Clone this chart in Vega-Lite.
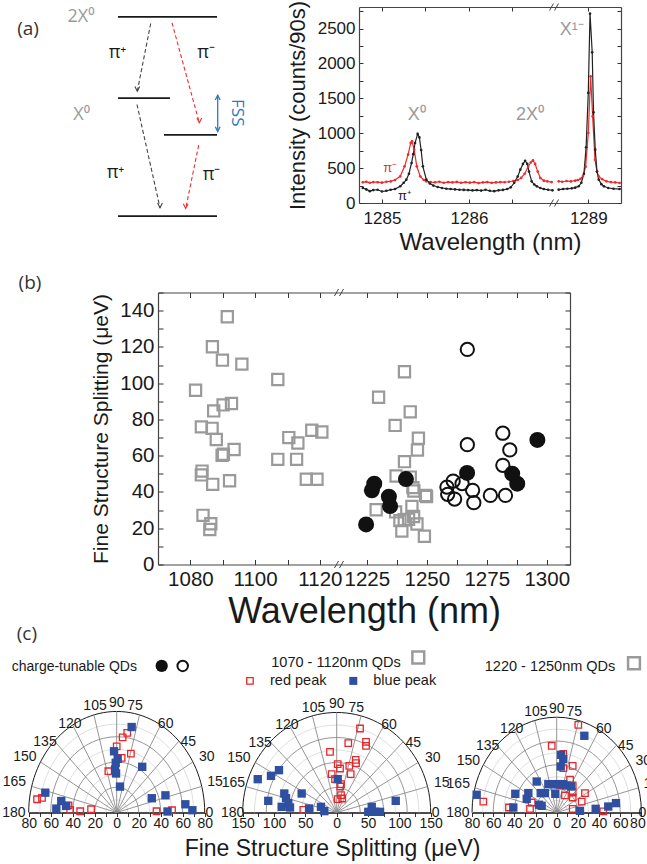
{
"$schema":"https://vega.github.io/schema/vega-lite/v6.json",
"background":"white",
"padding":0,
"bounds":"flush",
"spacing":89.5,
"config":{
 "view":{"stroke":null},
 "font":"Liberation Sans",
 "axis":{"labelFont":"Liberation Sans","titleFont":"Liberation Sans","labelColor":"#1a1a1a","titleColor":"#1a1a1a","titleFontWeight":"normal","tickColor":"#333","domainColor":"#444","grid":false,"labelFlush":false,"labelOverlap":false},
 "text":{"font":"Liberation Sans"}
},
"datasets":{
 "diag":[
  {"k":"lev","x":118,"y":17.3,"x2":217,"y2":17.3},
  {"k":"lev","x":118,"y":98.7,"x2":170,"y2":98.7},
  {"k":"lev","x":164,"y":135.3,"x2":217,"y2":135.3},
  {"k":"lev","x":118,"y":216.7,"x2":217,"y2":216.7},
  {"k":"tr","p":"plus","x":150.7,"y":24,"x2":137.3,"y2":91.7},
  {"k":"tr","p":"minus","x":172,"y":23.3,"x2":199.3,"y2":123.3},
  {"k":"tr","p":"plus","x":137,"y":105,"x2":160,"y2":208.3},
  {"k":"tr","p":"minus","x":198.7,"y":145.7,"x2":185.7,"y2":209},
  {"k":"fss","x":217.7,"y":95.7,"x2":217.7,"y2":132}
 ],
 "dtext":[
  {"g":"grey","t":"2X⁰","x":81,"y":17},
  {"g":"grey","t":"X⁰","x":81.7,"y":115},
  {"g":"pi","t":"π⁺","x":117.5,"y":53},
  {"g":"pi","t":"π⁻","x":206,"y":53},
  {"g":"pi","t":"π⁺","x":115.5,"y":173.5},
  {"g":"pi","t":"π⁻","x":211.5,"y":175},
  {"g":"lab","t":"(a)","x":28,"y":29},
  {"g":"fss","t":"FSS","x":237,"y":113.3}
 ],
 "spec":[
  {"p":"m","s":"L","w":1284.78,"i":296},{"p":"m","s":"L","w":1284.82,"i":305},{"p":"m","s":"L","w":1284.86,"i":290},{"p":"m","s":"L","w":1284.90,"i":300},{"p":"m","s":"L","w":1284.95,"i":298},{"p":"m","s":"L","w":1285.00,"i":292},{"p":"m","s":"L","w":1285.05,"i":305},{"p":"m","s":"L","w":1285.10,"i":310},{"p":"m","s":"L","w":1285.15,"i":330},{"p":"m","s":"L","w":1285.21,"i":382},{"p":"m","s":"L","w":1285.26,"i":526},{"p":"m","s":"L","w":1285.30,"i":693},{"p":"m","s":"L","w":1285.33,"i":860},{"p":"m","s":"L","w":1285.345,"i":884},{"p":"m","s":"L","w":1285.37,"i":765},{"p":"m","s":"L","w":1285.40,"i":526},{"p":"m","s":"L","w":1285.44,"i":382},{"p":"m","s":"L","w":1285.48,"i":330},{"p":"m","s":"L","w":1285.51,"i":311},{"p":"m","s":"L","w":1285.56,"i":300},{"p":"m","s":"L","w":1285.61,"i":296},{"p":"m","s":"L","w":1285.66,"i":305},{"p":"m","s":"L","w":1285.71,"i":290},{"p":"m","s":"L","w":1285.76,"i":300},{"p":"m","s":"L","w":1285.81,"i":295},{"p":"m","s":"L","w":1285.86,"i":302},{"p":"m","s":"L","w":1285.91,"i":290},{"p":"m","s":"L","w":1285.96,"i":298},{"p":"m","s":"L","w":1286.01,"i":292},{"p":"m","s":"L","w":1286.06,"i":300},{"p":"m","s":"L","w":1286.11,"i":285},{"p":"m","s":"L","w":1286.16,"i":295},{"p":"m","s":"L","w":1286.21,"i":300},{"p":"m","s":"L","w":1286.26,"i":290},{"p":"m","s":"L","w":1286.31,"i":295},{"p":"m","s":"L","w":1286.36,"i":300},{"p":"m","s":"L","w":1286.41,"i":298},{"p":"m","s":"L","w":1286.46,"i":305},{"p":"m","s":"L","w":1286.51,"i":315},{"p":"m","s":"L","w":1286.56,"i":330},{"p":"m","s":"L","w":1286.60,"i":360},{"p":"m","s":"L","w":1286.64,"i":420},{"p":"m","s":"L","w":1286.68,"i":520},{"p":"m","s":"L","w":1286.71,"i":580},{"p":"m","s":"L","w":1286.735,"i":612},{"p":"m","s":"L","w":1286.76,"i":560},{"p":"m","s":"L","w":1286.79,"i":450},{"p":"m","s":"L","w":1286.82,"i":358},{"p":"m","s":"L","w":1286.86,"i":320},{"p":"m","s":"L","w":1286.90,"i":311},{"p":"m","s":"L","w":1286.95,"i":300},
  {"p":"m","s":"R","w":1288.66,"i":311},{"p":"m","s":"R","w":1288.70,"i":305},{"p":"m","s":"R","w":1288.75,"i":315},{"p":"m","s":"R","w":1288.80,"i":310},{"p":"m","s":"R","w":1288.85,"i":320},{"p":"m","s":"R","w":1288.88,"i":330},{"p":"m","s":"R","w":1288.91,"i":345},{"p":"m","s":"R","w":1288.94,"i":390},{"p":"m","s":"R","w":1288.97,"i":520},{"p":"m","s":"R","w":1289.00,"i":1004},{"p":"m","s":"R","w":1289.027,"i":1816},{"p":"m","s":"R","w":1289.05,"i":1243},{"p":"m","s":"R","w":1289.077,"i":621},{"p":"m","s":"R","w":1289.10,"i":450},{"p":"m","s":"R","w":1289.12,"i":382},{"p":"m","s":"R","w":1289.16,"i":340},{"p":"m","s":"R","w":1289.21,"i":311},{"p":"m","s":"R","w":1289.26,"i":300},{"p":"m","s":"R","w":1289.31,"i":295},{"p":"m","s":"R","w":1289.36,"i":287},
  {"p":"p","s":"L","w":1284.78,"i":215},{"p":"p","s":"L","w":1284.82,"i":195},{"p":"p","s":"L","w":1284.86,"i":170},{"p":"p","s":"L","w":1284.90,"i":185},{"p":"p","s":"L","w":1284.95,"i":190},{"p":"p","s":"L","w":1285.00,"i":165},{"p":"p","s":"L","w":1285.05,"i":175},{"p":"p","s":"L","w":1285.10,"i":190},{"p":"p","s":"L","w":1285.15,"i":200},{"p":"p","s":"L","w":1285.21,"i":240},{"p":"p","s":"L","w":1285.25,"i":290},{"p":"p","s":"L","w":1285.28,"i":335},{"p":"p","s":"L","w":1285.31,"i":420},{"p":"p","s":"L","w":1285.34,"i":574},{"p":"p","s":"L","w":1285.36,"i":700},{"p":"p","s":"L","w":1285.38,"i":860},{"p":"p","s":"L","w":1285.41,"i":990},{"p":"p","s":"L","w":1285.43,"i":940},{"p":"p","s":"L","w":1285.45,"i":760},{"p":"p","s":"L","w":1285.47,"i":526},{"p":"p","s":"L","w":1285.51,"i":335},{"p":"p","s":"L","w":1285.55,"i":280},{"p":"p","s":"L","w":1285.59,"i":250},{"p":"p","s":"L","w":1285.64,"i":230},{"p":"p","s":"L","w":1285.69,"i":215},{"p":"p","s":"L","w":1285.74,"i":205},{"p":"p","s":"L","w":1285.79,"i":200},{"p":"p","s":"L","w":1285.84,"i":195},{"p":"p","s":"L","w":1285.89,"i":190},{"p":"p","s":"L","w":1285.94,"i":188},{"p":"p","s":"L","w":1285.99,"i":185},{"p":"p","s":"L","w":1286.04,"i":180},{"p":"p","s":"L","w":1286.09,"i":185},{"p":"p","s":"L","w":1286.14,"i":178},{"p":"p","s":"L","w":1286.19,"i":190},{"p":"p","s":"L","w":1286.24,"i":175},{"p":"p","s":"L","w":1286.29,"i":170},{"p":"p","s":"L","w":1286.34,"i":182},{"p":"p","s":"L","w":1286.39,"i":188},{"p":"p","s":"L","w":1286.44,"i":200},{"p":"p","s":"L","w":1286.48,"i":225},{"p":"p","s":"L","w":1286.52,"i":290},{"p":"p","s":"L","w":1286.56,"i":380},{"p":"p","s":"L","w":1286.59,"i":478},{"p":"p","s":"L","w":1286.62,"i":560},{"p":"p","s":"L","w":1286.645,"i":605},{"p":"p","s":"L","w":1286.67,"i":560},{"p":"p","s":"L","w":1286.69,"i":450},{"p":"p","s":"L","w":1286.72,"i":311},{"p":"p","s":"L","w":1286.75,"i":265},{"p":"p","s":"L","w":1286.78,"i":239},{"p":"p","s":"L","w":1286.82,"i":215},{"p":"p","s":"L","w":1286.86,"i":200},{"p":"p","s":"L","w":1286.91,"i":190},{"p":"p","s":"L","w":1286.96,"i":182},
  {"p":"p","s":"R","w":1288.66,"i":191},{"p":"p","s":"R","w":1288.71,"i":200},{"p":"p","s":"R","w":1288.76,"i":205},{"p":"p","s":"R","w":1288.81,"i":210},{"p":"p","s":"R","w":1288.85,"i":220},{"p":"p","s":"R","w":1288.89,"i":240},{"p":"p","s":"R","w":1288.92,"i":290},{"p":"p","s":"R","w":1288.95,"i":420},{"p":"p","s":"R","w":1288.975,"i":800},{"p":"p","s":"R","w":1289.00,"i":1578},{"p":"p","s":"R","w":1289.02,"i":2715},{"p":"p","s":"R","w":1289.045,"i":2160},{"p":"p","s":"R","w":1289.06,"i":1300},{"p":"p","s":"R","w":1289.08,"i":765},{"p":"p","s":"R","w":1289.10,"i":450},{"p":"p","s":"R","w":1289.12,"i":335},{"p":"p","s":"R","w":1289.15,"i":270},{"p":"p","s":"R","w":1289.18,"i":239},{"p":"p","s":"R","w":1289.23,"i":215},{"p":"p","s":"R","w":1289.29,"i":205},{"p":"p","s":"R","w":1289.36,"i":200}
 ],
 "fss":[
  {"t":"sq","w":1091.4,"f":136.6},{"t":"sq","w":1086.8,"f":120.1},{"t":"sq","w":1089.9,"f":112.7},{"t":"sq","w":1095.9,"f":110.5},{"t":"sq","w":1107.0,"f":102.0},{"t":"sq","w":1081.6,"f":96.1},{"t":"sq","w":1090.1,"f":88.0},{"t":"sq","w":1092.7,"f":88.8},{"t":"sq","w":1087.2,"f":84.7},{"t":"sq","w":1083.4,"f":75.9},{"t":"sq","w":1086.7,"f":75.1},{"t":"sq","w":1088.0,"f":68.9},{"t":"sq","w":1110.4,"f":70.0},{"t":"sq","w":1113.2,"f":67.0},{"t":"sq","w":1117.5,"f":74.0},{"t":"sq","w":1120.6,"f":73.1},{"t":"sq","w":1090.2,"f":60.8},{"t":"sq","w":1089.8,"f":60.2},{"t":"sq","w":1093.5,"f":63.4},{"t":"sq","w":1107.0,"f":58.0},{"t":"sq","w":1112.8,"f":58.0},{"t":"sq","w":1083.6,"f":51.5},{"t":"sq","w":1083.4,"f":49.4},{"t":"sq","w":1086.9,"f":44.2},{"t":"sq","w":1092.1,"f":46.2},{"t":"sq","w":1115.8,"f":47.0},{"t":"sq","w":1119.1,"f":47.0},{"t":"sq","w":1083.9,"f":27.1},{"t":"sq","w":1086.3,"f":22.5},{"t":"sq","w":1086.0,"f":19.3},
  {"t":"sq","w":1240.7,"f":106.3},{"t":"sq","w":1229.9,"f":92.2},{"t":"sq","w":1243.1,"f":84.2},{"t":"sq","w":1236.8,"f":76.7},{"t":"sq","w":1246.5,"f":69.6},{"t":"sq","w":1246.1,"f":63.1},{"t":"sq","w":1240.7,"f":56.7},{"t":"sq","w":1237.2,"f":48.8},{"t":"sq","w":1243.1,"f":48.2},{"t":"sq","w":1244.2,"f":42.4},{"t":"sq","w":1244.6,"f":40.5},{"t":"sq","w":1249.5,"f":38.1},{"t":"sq","w":1249.9,"f":37.5},{"t":"sq","w":1228.9,"f":30.2},{"t":"sq","w":1243.8,"f":32.0},{"t":"sq","w":1237.0,"f":29.0},{"t":"sq","w":1244.5,"f":26.5},{"t":"sq","w":1238.8,"f":24.2},{"t":"sq","w":1240.6,"f":24.7},{"t":"sq","w":1242.4,"f":24.9},{"t":"sq","w":1245.9,"f":22.3},{"t":"sq","w":1239.6,"f":18.4},{"t":"sq","w":1249.0,"f":15.6},
  {"t":"oc","w":1266.9,"f":118.6},{"t":"oc","w":1266.9,"f":66.1},{"t":"oc","w":1281.7,"f":72.4},{"t":"oc","w":1284.6,"f":63.2},{"t":"oc","w":1281.7,"f":54.7},{"t":"oc","w":1261.0,"f":46.0},{"t":"oc","w":1258.4,"f":42.7},{"t":"oc","w":1264.7,"f":44.6},{"t":"oc","w":1269.1,"f":40.9},{"t":"oc","w":1258.7,"f":38.7},{"t":"oc","w":1261.6,"f":36.1},{"t":"oc","w":1269.6,"f":34.1},{"t":"oc","w":1276.5,"f":38.1},{"t":"oc","w":1282.8,"f":38.1},
  {"t":"fc","w":1296.1,"f":68.7},{"t":"fc","w":1266.8,"f":50.5},{"t":"fc","w":1285.6,"f":50.1},{"t":"fc","w":1287.7,"f":44.6},{"t":"fc","w":1241.3,"f":47.1},{"t":"fc","w":1228.1,"f":44.6},{"t":"fc","w":1227.1,"f":40.9},{"t":"fc","w":1234.2,"f":37.4},{"t":"fc","w":1234.7,"f":32.2},{"t":"fc","w":1224.7,"f":22.1}
 ],
 "p1":[
  {"c":"b","x":13.6,"y":67.7},{"c":"b","x":-2.4,"y":48.5},{"c":"b","x":0.9,"y":42.5},{"c":"b","x":-0.9,"y":39.4},{"c":"b","x":-1.5,"y":34.1},{"c":"b","x":-0.6,"y":30.9},{"c":"b","x":3.0,"y":20.5},{"c":"b","x":23.2,"y":36.2},{"c":"b","x":-64.9,"y":15.7},{"c":"b","x":-50.4,"y":9.1},{"c":"b","x":-54.9,"y":3.1},{"c":"b","x":-45.9,"y":5.2},{"c":"b","x":31.9,"y":11.3},{"c":"b","x":44.3,"y":13.6},{"c":"b","x":46.2,"y":0.8},{"c":"b","x":62.4,"y":6.5},{"c":"b","x":68.8,"y":1.8},
  {"c":"r","x":9.6,"y":63},{"c":"r","x":5.4,"y":59.5},{"c":"r","x":0,"y":52.4},{"c":"r","x":12.9,"y":46.7},{"c":"r","x":4.5,"y":43.3},{"c":"r","x":-7.6,"y":32.7},{"c":"r","x":-72.4,"y":10.5},{"c":"r","x":-67.9,"y":11.5},{"c":"r","x":-43.8,"y":5.7},{"c":"r","x":-42.3,"y":2.0},{"c":"r","x":-33.2,"y":1.0},{"c":"r","x":-23.3,"y":2.6},{"c":"r","x":36.2,"y":1.0},{"c":"r","x":50.3,"y":1.8}
 ],
 "p2":[
  {"c":"r","x":37.2,"y":126},{"c":"r","x":18.5,"y":104},{"c":"r","x":46.8,"y":106},{"c":"r","x":46.8,"y":100},{"c":"r","x":-10.7,"y":91},{"c":"r","x":30.3,"y":79},{"c":"r","x":30.8,"y":74},{"c":"r","x":1.6,"y":72.5},{"c":"r","x":5.3,"y":66},{"c":"r","x":20.1,"y":70},{"c":"r","x":-8.0,"y":57.5},{"c":"r","x":22.3,"y":57.5},{"c":"r","x":-2.7,"y":50},{"c":"r","x":6.9,"y":42.5},{"c":"r","x":5.7,"y":39},{"c":"r","x":6.9,"y":26},{"c":"r","x":1.6,"y":20},{"c":"r","x":8.9,"y":21},{"c":"r","x":-53.3,"y":4},
  {"c":"b","x":1.6,"y":50},{"c":"b","x":-126,"y":50},{"c":"b","x":-104.9,"y":55},{"c":"b","x":-92.1,"y":63.5},{"c":"b","x":-83.6,"y":28.5},{"c":"b","x":-80.9,"y":21.5},{"c":"b","x":-109.2,"y":17.5},{"c":"b","x":-55.9,"y":28.5},{"c":"b","x":-87.8,"y":8.5},{"c":"b","x":-74.5,"y":7.5},{"c":"b","x":-77.2,"y":14},{"c":"b","x":-44.2,"y":6},{"c":"b","x":-25.1,"y":8.5},{"c":"b","x":-19.8,"y":2},{"c":"b","x":55.9,"y":8.5},{"c":"b","x":61.1,"y":1},{"c":"b","x":50.4,"y":1},{"c":"b","x":69.1,"y":1},{"c":"b","x":94.2,"y":17.5}
 ],
 "p3":[
  {"c":"r","x":20.4,"y":73.6},{"c":"r","x":-4.7,"y":56},{"c":"r","x":6.2,"y":49.3},{"c":"r","x":15.1,"y":39.2},{"c":"r","x":6.2,"y":37.3},{"c":"r","x":12.6,"y":27.5},{"c":"r","x":15.1,"y":22.7},{"c":"r","x":3.8,"y":22.7},{"c":"r","x":7.8,"y":14.3},{"c":"r","x":15.1,"y":16.8},{"c":"r","x":26.7,"y":16.3},{"c":"r","x":15.1,"y":12.6},{"c":"r","x":23.6,"y":9.2},{"c":"r","x":15.1,"y":3.1},{"c":"r","x":-69.3,"y":9.2},{"c":"r","x":-45.1,"y":4.2},{"c":"r","x":-25.2,"y":3.1},{"c":"r","x":-23.6,"y":8.4},{"c":"r","x":44,"y":1.0},
  {"c":"b","x":26.1,"y":64.4},{"c":"b","x":4.1,"y":48.4},{"c":"b","x":6.2,"y":44.8},{"c":"b","x":3.8,"y":38.6},{"c":"b","x":-7.9,"y":23.8},{"c":"b","x":-3.2,"y":23.8},{"c":"b","x":1.5,"y":23.8},{"c":"b","x":6.2,"y":23.8},{"c":"b","x":9.4,"y":22.7},{"c":"b","x":13.5,"y":21.8},{"c":"b","x":-18.9,"y":26},{"c":"b","x":-15.1,"y":16.3},{"c":"b","x":-11.1,"y":16.3},{"c":"b","x":-1.3,"y":15.7},{"c":"b","x":-26.8,"y":16.3},{"c":"b","x":-28.3,"y":11.5},{"c":"b","x":-16.7,"y":6.5},{"c":"b","x":-14.2,"y":5.6},{"c":"b","x":-39.1,"y":15.7},{"c":"b","x":-41,"y":4.2},{"c":"b","x":-75.6,"y":14.9},{"c":"b","x":36.8,"y":3.1},{"c":"b","x":48.7,"y":5.0},{"c":"b","x":56,"y":7.9},{"c":"b","x":22,"y":1.4}
 ],
 "ring80":[{"o":0,"r":10,"k":"l"},{"o":0,"r":20,"k":"d"},{"o":0,"r":30,"k":"l"},{"o":0,"r":40,"k":"d"},{"o":0,"r":50,"k":"l"},{"o":0,"r":60,"k":"d"},{"o":0,"r":70,"k":"l"},{"o":0,"r":80,"k":"o"}],
 "ring150":[{"o":0,"r":18.75,"k":"l"},{"o":0,"r":37.5,"k":"d"},{"o":0,"r":56.25,"k":"l"},{"o":0,"r":75,"k":"d"},{"o":0,"r":93.75,"k":"l"},{"o":0,"r":112.5,"k":"d"},{"o":0,"r":131.25,"k":"l"},{"o":0,"r":150,"k":"o"}],
 "rad80":[{"o":0,"ex":77.27,"ey":20.71},{"o":0,"ex":69.28,"ey":40},{"o":0,"ex":56.57,"ey":56.57},{"o":0,"ex":40,"ey":69.28},{"o":0,"ex":20.71,"ey":77.27},{"o":0,"ex":0,"ey":80},{"o":0,"ex":-20.71,"ey":77.27},{"o":0,"ex":-40,"ey":69.28},{"o":0,"ex":-56.57,"ey":56.57},{"o":0,"ex":-69.28,"ey":40},{"o":0,"ex":-77.27,"ey":20.71}],
 "rad150":[{"o":0,"ex":144.89,"ey":38.82},{"o":0,"ex":129.9,"ey":75},{"o":0,"ex":106.07,"ey":106.07},{"o":0,"ex":75,"ey":129.9},{"o":0,"ex":38.82,"ey":144.89},{"o":0,"ex":0,"ey":150},{"o":0,"ex":-38.82,"ey":144.89},{"o":0,"ex":-75,"ey":129.9},{"o":0,"ex":-106.07,"ey":106.07},{"o":0,"ex":-129.9,"ey":75},{"o":0,"ex":-144.89,"ey":38.82}],
 "lab80":[{"t":"0","x":84.2,"y":0},{"t":"15","x":89.4,"y":23.8},{"t":"30","x":81.8,"y":43.6},{"t":"45","x":65.1,"y":55.9},{"t":"60","x":44.5,"y":70},{"t":"75","x":16.6,"y":84},{"t":"90","x":0,"y":86.6},{"t":"105","x":-19.7,"y":84},{"t":"120","x":-42.5,"y":70},{"t":"135","x":-65.2,"y":55.9},{"t":"150","x":-83.4,"y":43.6},{"t":"165","x":-93,"y":23.8},{"t":"180","x":-93.4,"y":0}],
 "lab80b":[{"t":"0","x":81,"y":0},{"t":"15","x":89.4,"y":23.8},{"t":"30","x":81.8,"y":43.6},{"t":"45","x":65.1,"y":55.9},{"t":"60","x":44.5,"y":70},{"t":"75","x":16.6,"y":84},{"t":"90","x":0,"y":86.6},{"t":"105","x":-19.7,"y":84},{"t":"120","x":-42.5,"y":70},{"t":"135","x":-65.2,"y":55.9},{"t":"150","x":-83.4,"y":43.6},{"t":"165","x":-93,"y":23.8},{"t":"180","x":-93.4,"y":0}],
 "lab150":[{"t":"0","x":157.8,"y":0},{"t":"15","x":167.6,"y":44.6},{"t":"30","x":153.4,"y":81.8},{"t":"45","x":122.1,"y":104.9},{"t":"60","x":83.5,"y":131.1},{"t":"75","x":31.1,"y":157.4},{"t":"90","x":0,"y":162.3},{"t":"105","x":-37,"y":157.4},{"t":"120","x":-79.6,"y":131.1},{"t":"135","x":-122.3,"y":104.9},{"t":"150","x":-156.2,"y":81.8},{"t":"165","x":-165,"y":44.6},{"t":"180","x":-166,"y":0}]
},
"vconcat":[
 {"width":621,"height":196,
  "resolve":{"scale":{"x":"independent","y":"independent","color":"independent"},"axis":{"x":"independent","y":"independent"}},
  "layer":[
   {"data":{"name":"diag"},"transform":[{"filter":"datum.k == 'lev'"}],"mark":{"type":"rule","color":"#1a1a1a","strokeWidth":1.8},
    "encoding":{"x":{"field":"x","type":"quantitative","scale":{"domain":[0,621],"range":[0,621],"nice":false,"zero":false},"axis":null},"y":{"field":"y","type":"quantitative","scale":{"domain":[7.5,203.5],"range":[0,196],"nice":false,"zero":false},"axis":null},"x2":{"field":"x2"},"y2":{"field":"y2"}}},
   {"data":{"name":"diag"},"transform":[{"filter":"datum.k == 'tr'"}],"mark":{"type":"rule","strokeDash":[4,2.5],"strokeWidth":1.1},
    "encoding":{"x":{"field":"x","type":"quantitative","scale":{"domain":[0,621],"range":[0,621],"nice":false,"zero":false},"axis":null},"y":{"field":"y","type":"quantitative","scale":{"domain":[7.5,203.5],"range":[0,196],"nice":false,"zero":false},"axis":null},"x2":{"field":"x2"},"y2":{"field":"y2"},
     "color":{"field":"p","type":"nominal","scale":{"domain":["plus","minus"],"range":["#444444","#ee3030"]},"legend":null}}},
   {"data":{"name":"diag"},"transform":[{"filter":"datum.k == 'tr'"}],"mark":{"type":"point","shape":"M -0.8 -1.6 L 0 0 L 0.8 -1.6","filled":false,"size":36,"strokeWidth":1.1,"opacity":1},
    "encoding":{"x":{"field":"x2","type":"quantitative","scale":{"domain":[0,621],"range":[0,621],"nice":false,"zero":false},"axis":null},"y":{"field":"y2","type":"quantitative","scale":{"domain":[7.5,203.5],"range":[0,196],"nice":false,"zero":false},"axis":null},
     "color":{"field":"p","type":"nominal","scale":{"domain":["plus","minus"],"range":["#444444","#ee3030"]},"legend":null}}},
   {"data":{"name":"diag"},"transform":[{"filter":"datum.k == 'fss'"}],"mark":{"type":"rule","color":"#2b7bbf","strokeWidth":1.3},
    "encoding":{"x":{"field":"x","type":"quantitative","scale":{"domain":[0,621],"range":[0,621],"nice":false,"zero":false},"axis":null},"y":{"field":"y","type":"quantitative","scale":{"domain":[7.5,203.5],"range":[0,196],"nice":false,"zero":false},"axis":null},"x2":{"field":"x2"},"y2":{"field":"y2"}}},
   {"data":{"name":"diag"},"transform":[{"filter":"datum.k == 'fss'"}],"mark":{"type":"point","shape":"M -0.8 1.6 L 0 0 L 0.8 1.6","filled":false,"size":36,"strokeWidth":1.3,"color":"#2b7bbf","opacity":1},
    "encoding":{"x":{"field":"x","type":"quantitative","scale":{"domain":[0,621],"range":[0,621],"nice":false,"zero":false},"axis":null},"y":{"field":"y","type":"quantitative","scale":{"domain":[7.5,203.5],"range":[0,196],"nice":false,"zero":false},"axis":null}}},
   {"data":{"name":"diag"},"transform":[{"filter":"datum.k == 'fss'"}],"mark":{"type":"point","shape":"M -0.8 -1.6 L 0 0 L 0.8 -1.6","filled":false,"size":36,"strokeWidth":1.3,"color":"#2b7bbf","opacity":1},
    "encoding":{"x":{"field":"x2","type":"quantitative","scale":{"domain":[0,621],"range":[0,621],"nice":false,"zero":false},"axis":null},"y":{"field":"y2","type":"quantitative","scale":{"domain":[7.5,203.5],"range":[0,196],"nice":false,"zero":false},"axis":null}}},
   {"data":{"name":"dtext"},"transform":[{"filter":"datum.g == 'grey'"}],"mark":{"type":"text","font":"Open Sans","fontSize":18,"color":"#9a9a9a"},
    "encoding":{"x":{"field":"x","type":"quantitative","scale":{"domain":[0,621],"range":[0,621],"nice":false,"zero":false},"axis":null},"y":{"field":"y","type":"quantitative","scale":{"domain":[7.5,203.5],"range":[0,196],"nice":false,"zero":false},"axis":null},"text":{"field":"t"}}},
   {"data":{"name":"dtext"},"transform":[{"filter":"datum.g == 'pi'"}],"mark":{"type":"text","font":"Open Sans","fontSize":18,"color":"#1a1a1a"},
    "encoding":{"x":{"field":"x","type":"quantitative","scale":{"domain":[0,621],"range":[0,621],"nice":false,"zero":false},"axis":null},"y":{"field":"y","type":"quantitative","scale":{"domain":[7.5,203.5],"range":[0,196],"nice":false,"zero":false},"axis":null},"text":{"field":"t"}}},
   {"data":{"name":"dtext"},"transform":[{"filter":"datum.g == 'lab'"}],"mark":{"type":"text","font":"Open Sans","fontSize":19,"color":"#333333"},
    "encoding":{"x":{"field":"x","type":"quantitative","scale":{"domain":[0,621],"range":[0,621],"nice":false,"zero":false},"axis":null},"y":{"field":"y","type":"quantitative","scale":{"domain":[7.5,203.5],"range":[0,196],"nice":false,"zero":false},"axis":null},"text":{"field":"t"}}},
   {"data":{"name":"dtext"},"transform":[{"filter":"datum.g == 'fss'"}],"mark":{"type":"text","font":"Open Sans","fontSize":17,"angle":90,"color":"#2b7bbf"},
    "encoding":{"x":{"field":"x","type":"quantitative","scale":{"domain":[0,621],"range":[0,621],"nice":false,"zero":false},"axis":null},"y":{"field":"y","type":"quantitative","scale":{"domain":[7.5,203.5],"range":[0,196],"nice":false,"zero":false},"axis":null},"text":{"field":"t"}}},
   {"data":{"name":"spec"},"mark":{"type":"line","strokeWidth":1.2,"point":{"size":7,"filled":true,"opacity":1}},
    "encoding":{
     "x":{"field":"w","type":"quantitative","scale":{"type":"linear","domain":[1284.736,1286.977,1288.606,1289.376],"range":[359,554,554,621],"nice":false,"zero":false},
          "axis":{"orient":"bottom","values":[1285,1285.5,1286,1286.5,1289],"labelExpr":"datum.value % 1 == 0 ? '' + datum.value : ''","tickSize":-4,"labelPadding":11,"labelFontSize":17,"domain":true,"domainWidth":1.2,"title":"Wavelength (nm)","titleFontSize":24,"titlePadding":4}},
     "y":{"field":"i","type":"quantitative","scale":{"domain":[0,2810],"range":[196,0],"nice":false,"zero":false},
          "axis":{"orient":"left","offset":-359,"values":[0,250,500,750,1000,1250,1500,1750,2000,2250,2500,2750],"labelExpr":"datum.value % 500 == 0 ? '' + datum.value : ''","tickSize":-4,"labelPadding":8,"labelFontSize":17,"domain":true,"domainWidth":1.2,"title":"Intensity (counts/90s)","titleFontSize":22,"titlePadding":8}},
     "color":{"field":"p","type":"nominal","scale":{"domain":["m","p"],"range":["#ee2a2a","#222222"]},"legend":null},
     "detail":{"field":"s"}}},
   {"data":{"values":[{"t":"X⁰","w":1285.40,"i":1266},{"t":"2X⁰","w":1286.70,"i":1266},{"t":"X¹⁻","w":1288.81,"i":2486}]},
    "mark":{"type":"text","fontSize":18,"color":"#9a9a9a"},
    "encoding":{
     "x":{"field":"w","type":"quantitative","scale":{"type":"linear","domain":[1284.736,1286.977,1288.606,1289.376],"range":[359,554,554,621],"nice":false,"zero":false},
          "axis":{"orient":"top","values":[1285,1285.5,1286,1286.5,1289],"labels":false,"tickSize":-4,"domain":true,"domainWidth":1.2,"title":null}},
     "y":{"field":"i","type":"quantitative","scale":{"domain":[0,2810],"range":[196,0],"nice":false,"zero":false},
          "axis":{"orient":"right","values":[0,250,500,750,1000,1250,1500,1750,2000,2250,2500,2750],"labels":false,"tickSize":-4,"domain":true,"domainWidth":1.2,"title":null}},
     "text":{"field":"t"}}},
   {"data":{"values":[{"t":"π⁻","w":1285.09,"i":502,"p":"m"},{"t":"π⁺","w":1285.26,"i":96,"p":"p"}]},
    "mark":{"type":"text","fontSize":13},
    "encoding":{
     "x":{"field":"w","type":"quantitative","scale":{"type":"linear","domain":[1284.736,1286.977,1288.606,1289.376],"range":[359,554,554,621],"nice":false,"zero":false},"axis":null},
     "y":{"field":"i","type":"quantitative","scale":{"domain":[0,2810],"range":[196,0],"nice":false,"zero":false},"axis":null},
     "color":{"field":"p","type":"nominal","scale":{"domain":["m","p"],"range":["#ee2a2a","#222222"]},"legend":null},
     "text":{"field":"t"}}},
   {"data":{"values":[{"a":1286.925,"b":1286.971,"u":-50,"v":50},{"a":1288.612,"b":1288.658,"u":-50,"v":50},{"a":1286.925,"b":1286.971,"u":2760,"v":2860},{"a":1288.612,"b":1288.658,"u":2760,"v":2860}]},
    "mark":{"type":"rule","color":"#444444","strokeWidth":1},
    "encoding":{
     "x":{"field":"a","type":"quantitative","scale":{"type":"linear","domain":[1284.736,1286.977,1288.606,1289.376],"range":[359,554,554,621],"nice":false,"zero":false},"axis":null},
     "x2":{"field":"b"},
     "y":{"field":"u","type":"quantitative","scale":{"domain":[0,2810],"range":[196,0],"nice":false,"zero":false},"axis":null},
     "y2":{"field":"v"}}}
  ]},
 {"width":570,"height":272,
  "resolve":{"scale":{"x":"independent","y":"independent"},"axis":{"x":"independent","y":"independent"}},
  "layer":[
   {"data":{"name":"fss"},"transform":[{"filter":"datum.t == 'sq'"}],"mark":{"type":"point","shape":"square","filled":false,"size":125,"strokeWidth":2.2,"color":"#9a9a9a","opacity":1},
    "encoding":{
     "x":{"field":"w","type":"quantitative","scale":{"type":"linear","domain":[1070,1125.9,1213.4,1309.7],"range":[158,339,339,570],"nice":false,"zero":false},
          "axis":{"orient":"bottom","values":[1080,1090,1100,1110,1120,1225,1237.5,1250,1262.5,1275,1287.5,1300],"labelExpr":"indexof([1080,1100,1120,1225,1250,1275,1300], datum.value) >= 0 ? '' + datum.value : ''","tickSize":-5,"labelPadding":10,"labelFontSize":20.5,"domain":true,"domainWidth":1.2,"title":"Wavelength (nm)","titleFontSize":36,"titlePadding":4}},
     "y":{"field":"f","type":"quantitative","scale":{"domain":[0,150],"range":[272,0],"nice":false,"zero":false},
          "axis":{"orient":"left","offset":-158,"values":[0,10,20,30,40,50,60,70,80,90,100,110,120,130,140,150],"labelExpr":"datum.value % 20 == 0 ? '' + datum.value : ''","tickSize":-5,"labelPadding":9,"labelFontSize":20.5,"domain":true,"domainWidth":1.2,"title":"Fine Structure Splitting (μeV)","titleFontSize":21,"titlePadding":8}}}},
   {"data":{"name":"fss"},"transform":[{"filter":"datum.t == 'oc'"}],"mark":{"type":"point","shape":"circle","filled":false,"size":177,"strokeWidth":2,"color":"#111111","opacity":1},
    "encoding":{
     "x":{"field":"w","type":"quantitative","scale":{"type":"linear","domain":[1070,1125.9,1213.4,1309.7],"range":[158,339,339,570],"nice":false,"zero":false},"axis":null},
     "y":{"field":"f","type":"quantitative","scale":{"domain":[0,150],"range":[272,0],"nice":false,"zero":false},"axis":null}}},
   {"data":{"name":"fss"},"transform":[{"filter":"datum.t == 'fc'"}],"mark":{"type":"point","shape":"circle","filled":true,"size":256,"color":"#111111","opacity":1},
    "encoding":{
     "x":{"field":"w","type":"quantitative","scale":{"type":"linear","domain":[1070,1125.9,1213.4,1309.7],"range":[158,339,339,570],"nice":false,"zero":false},
          "axis":{"orient":"top","values":[1080,1090,1100,1110,1120,1225,1237.5,1250,1262.5,1275,1287.5,1300],"labels":false,"tickSize":-5,"domain":true,"domainWidth":1.2,"title":null}},
     "y":{"field":"f","type":"quantitative","scale":{"domain":[0,150],"range":[272,0],"nice":false,"zero":false},
          "axis":{"orient":"right","values":[0,10,20,30,40,50,60,70,80,90,100,110,120,130,140,150],"labels":false,"tickSize":-5,"domain":true,"domainWidth":1.2,"title":null}}}},
   {"data":{"values":[{"a":1124.51,"b":1125.75,"u":-1.93,"v":1.93},{"a":1213.61,"b":1215.28,"u":-1.93,"v":1.93},{"a":1124.51,"b":1125.75,"u":148.07,"v":151.93},{"a":1213.61,"b":1215.28,"u":148.07,"v":151.93}]},
    "mark":{"type":"rule","color":"#444444","strokeWidth":1},
    "encoding":{
     "x":{"field":"a","type":"quantitative","scale":{"type":"linear","domain":[1070,1125.9,1213.4,1309.7],"range":[158,339,339,570],"nice":false,"zero":false},"axis":null},
     "x2":{"field":"b"},
     "y":{"field":"u","type":"quantitative","scale":{"domain":[0,150],"range":[272,0],"nice":false,"zero":false},"axis":null},
     "y2":{"field":"v"}}},
   {"data":{"values":[{"t":"(b)","x":30,"y":283}]},"mark":{"type":"text","fontSize":19,"font":"Open Sans","color":"#333333"},
    "encoding":{"x":{"field":"x","type":"quantitative","scale":{"domain":[0,570],"range":[0,570],"nice":false,"zero":false},"axis":null},"y":{"field":"y","type":"quantitative","scale":{"domain":[293,565],"range":[0,272],"nice":false,"zero":false},"axis":null},"text":{"field":"t"}}}
  ]},
 {"width":647,"height":158.5,
  "resolve":{"scale":{"x":"independent","y":"independent","size":"independent","stroke":"independent","strokeWidth":"independent"},"axis":{"x":"independent","y":"independent"}},
  "layer":[
   {"data":{"name":"ring80"},"mark":{"type":"point","shape":"M -1 0 C -1 -0.634 -0.5523 -1.148 0 -1.148 C 0.5523 -1.148 1 -0.634 1 0","filled":false,"opacity":1},
    "encoding":{
     "x":{"field":"o","type":"quantitative","scale":{"domain":[-80,80],"range":[28.7,204.7],"nice":false,"zero":false},
          "axis":{"orient":"bottom","values":[-80,-70,-60,-50,-40,-30,-20,-10,0,10,20,30,40,50,60,70,80],"labelExpr":"datum.value % 20 == 0 ? '' + abs(datum.value) : ''","tickSize":4,"labelPadding":0,"labelFontSize":14,"domain":true,"domainColor":"#111111","domainWidth":1.4,"title":null}},
     "y":{"field":"o","type":"quantitative","scale":{"domain":[0,80],"range":[158.5,57.5],"nice":false,"zero":false},"axis":null},
     "size":{"field":"r","type":"quantitative","scale":{"type":"pow","exponent":2,"domain":[0,80],"range":[0,30976]},"legend":null},
     "stroke":{"field":"k","type":"nominal","scale":{"domain":["l","d","o"],"range":["#d6d6d6","#8a8a8a","#1a1a1a"]},"legend":null},
     "strokeWidth":{"field":"k","type":"ordinal","scale":{"domain":["l","d","o"],"range":[0.8,1,1.4]},"legend":null}}},
   {"data":{"name":"rad80"},"mark":{"type":"rule","color":"#8a8a8a","strokeWidth":0.9},
    "encoding":{"x":{"field":"o","type":"quantitative","scale":{"domain":[-80,80],"range":[28.7,204.7],"nice":false,"zero":false},"axis":null},"y":{"field":"o","type":"quantitative","scale":{"domain":[0,80],"range":[158.5,57.5],"nice":false,"zero":false},"axis":null},"x2":{"field":"ex"},"y2":{"field":"ey"}}},
   {"data":{"name":"p1"},"transform":[{"filter":"datum.c == 'r'"}],"mark":{"type":"point","shape":"square","filled":false,"size":42,"strokeWidth":1.3,"color":"#e8262a","opacity":1},
    "encoding":{"x":{"field":"x","type":"quantitative","scale":{"domain":[-80,80],"range":[28.7,204.7],"nice":false,"zero":false},"axis":null},"y":{"field":"y","type":"quantitative","scale":{"domain":[0,80],"range":[158.5,57.5],"nice":false,"zero":false},"axis":null}}},
   {"data":{"name":"p1"},"transform":[{"filter":"datum.c == 'b'"}],"mark":{"type":"point","shape":"square","filled":true,"size":70,"color":"#2f4fa0","opacity":1},
    "encoding":{"x":{"field":"x","type":"quantitative","scale":{"domain":[-80,80],"range":[28.7,204.7],"nice":false,"zero":false},"axis":null},"y":{"field":"y","type":"quantitative","scale":{"domain":[0,80],"range":[158.5,57.5],"nice":false,"zero":false},"axis":null}}},
   {"data":{"name":"lab80"},"mark":{"type":"text","fontSize":14,"color":"#1a1a1a"},
    "encoding":{"x":{"field":"x","type":"quantitative","scale":{"domain":[-80,80],"range":[28.7,204.7],"nice":false,"zero":false},"axis":null},"y":{"field":"y","type":"quantitative","scale":{"domain":[0,80],"range":[158.5,57.5],"nice":false,"zero":false},"axis":null},"text":{"field":"t"}}},
   {"data":{"values":[{"t":"(c)","x":-90.9,"y":141.2}]},"mark":{"type":"text","fontSize":19,"font":"Open Sans","color":"#333333","align":"left"},
    "encoding":{"x":{"field":"x","type":"quantitative","scale":{"domain":[-80,80],"range":[28.7,204.7],"nice":false,"zero":false},"axis":null},"y":{"field":"y","type":"quantitative","scale":{"domain":[0,80],"range":[158.5,57.5],"nice":false,"zero":false},"axis":null},"text":{"field":"t"}}},
   {"data":{"values":[{"t":"charge-tunable QDs","x":-95.5,"y":115.1}]},"mark":{"type":"text","fontSize":14,"color":"#1a1a1a","align":"left"},
    "encoding":{"x":{"field":"x","type":"quantitative","scale":{"domain":[-80,80],"range":[28.7,204.7],"nice":false,"zero":false},"axis":null},"y":{"field":"y","type":"quantitative","scale":{"domain":[0,80],"range":[158.5,57.5],"nice":false,"zero":false},"axis":null},"text":{"field":"t"}}},
   {"data":{"values":[{"x":40.9,"y":116.1}]},"mark":{"type":"point","shape":"circle","filled":true,"size":150,"color":"#111111","opacity":1},
    "encoding":{"x":{"field":"x","type":"quantitative","scale":{"domain":[-80,80],"range":[28.7,204.7],"nice":false,"zero":false},"axis":null},"y":{"field":"y","type":"quantitative","scale":{"domain":[0,80],"range":[158.5,57.5],"nice":false,"zero":false},"axis":null}}},
   {"data":{"values":[{"x":60,"y":116.1}]},"mark":{"type":"point","shape":"circle","filled":false,"size":110,"strokeWidth":2,"color":"#111111","opacity":1},
    "encoding":{"x":{"field":"x","type":"quantitative","scale":{"domain":[-80,80],"range":[28.7,204.7],"nice":false,"zero":false},"axis":null},"y":{"field":"y","type":"quantitative","scale":{"domain":[0,80],"range":[158.5,57.5],"nice":false,"zero":false},"axis":null}}},

   {"data":{"name":"ring150"},"mark":{"type":"point","shape":"M -1 0 C -1 -0.5876 -0.5523 -1.064 0 -1.064 C 0.5523 -1.064 1 -0.5876 1 0","filled":false,"opacity":1},
    "encoding":{
     "x":{"field":"o","type":"quantitative","scale":{"domain":[-150,150],"range":[242.7,430.7],"nice":false,"zero":false},
          "axis":{"orient":"bottom","values":[-150,-125,-100,-75,-50,-25,0,25,50,75,100,125,150],"labelExpr":"datum.value % 50 == 0 ? '' + abs(datum.value) : ''","tickSize":4,"labelPadding":0,"labelFontSize":14,"domain":true,"domainColor":"#111111","domainWidth":1.4,
                  "title":"Fine Structure Splitting (μeV)","titleFontSize":23,"titleX":332,"titleY":43,"titleAlign":"center","titleBaseline":"alphabetic","titleAngle":0}},
     "y":{"field":"o","type":"quantitative","scale":{"domain":[0,150],"range":[158.5,58.5],"nice":false,"zero":false},"axis":null},
     "size":{"field":"r","type":"quantitative","scale":{"type":"pow","exponent":2,"domain":[0,150],"range":[0,35344]},"legend":null},
     "stroke":{"field":"k","type":"nominal","scale":{"domain":["l","d","o"],"range":["#d6d6d6","#8a8a8a","#1a1a1a"]},"legend":null},
     "strokeWidth":{"field":"k","type":"ordinal","scale":{"domain":["l","d","o"],"range":[0.8,1,1.4]},"legend":null}}},
   {"data":{"name":"rad150"},"mark":{"type":"rule","color":"#8a8a8a","strokeWidth":0.9},
    "encoding":{"x":{"field":"o","type":"quantitative","scale":{"domain":[-150,150],"range":[242.7,430.7],"nice":false,"zero":false},"axis":null},"y":{"field":"o","type":"quantitative","scale":{"domain":[0,150],"range":[158.5,58.5],"nice":false,"zero":false},"axis":null},"x2":{"field":"ex"},"y2":{"field":"ey"}}},
   {"data":{"name":"p2"},"transform":[{"filter":"datum.c == 'r'"}],"mark":{"type":"point","shape":"square","filled":false,"size":42,"strokeWidth":1.3,"color":"#e8262a","opacity":1},
    "encoding":{"x":{"field":"x","type":"quantitative","scale":{"domain":[-150,150],"range":[242.7,430.7],"nice":false,"zero":false},"axis":null},"y":{"field":"y","type":"quantitative","scale":{"domain":[0,150],"range":[158.5,58.5],"nice":false,"zero":false},"axis":null}}},
   {"data":{"name":"p2"},"transform":[{"filter":"datum.c == 'b'"}],"mark":{"type":"point","shape":"square","filled":true,"size":70,"color":"#2f4fa0","opacity":1},
    "encoding":{"x":{"field":"x","type":"quantitative","scale":{"domain":[-150,150],"range":[242.7,430.7],"nice":false,"zero":false},"axis":null},"y":{"field":"y","type":"quantitative","scale":{"domain":[0,150],"range":[158.5,58.5],"nice":false,"zero":false},"axis":null}}},
   {"data":{"name":"lab150"},"mark":{"type":"text","fontSize":14,"color":"#1a1a1a"},
    "encoding":{"x":{"field":"x","type":"quantitative","scale":{"domain":[-150,150],"range":[242.7,430.7],"nice":false,"zero":false},"axis":null},"y":{"field":"y","type":"quantitative","scale":{"domain":[0,150],"range":[158.5,58.5],"nice":false,"zero":false},"axis":null},"text":{"field":"t"}}},
   {"data":{"values":[{"t":"1070 - 1120nm QDs","x":-1.1,"y":224}]},"mark":{"type":"text","fontSize":14.5,"color":"#1a1a1a"},
    "encoding":{"x":{"field":"x","type":"quantitative","scale":{"domain":[-150,150],"range":[242.7,430.7],"nice":false,"zero":false},"axis":null},"y":{"field":"y","type":"quantitative","scale":{"domain":[0,150],"range":[158.5,58.5],"nice":false,"zero":false},"axis":null},"text":{"field":"t"}}},
   {"data":{"values":[{"t":"red peak","x":-106.4,"y":197.4},{"t":"blue peak","x":58.4,"y":197.4}]},"mark":{"type":"text","fontSize":14.5,"color":"#1a1a1a","align":"left"},
    "encoding":{"x":{"field":"x","type":"quantitative","scale":{"domain":[-150,150],"range":[242.7,430.7],"nice":false,"zero":false},"axis":null},"y":{"field":"y","type":"quantitative","scale":{"domain":[0,150],"range":[158.5,58.5],"nice":false,"zero":false},"axis":null},"text":{"field":"t"}}},
   {"data":{"values":[{"x":130.2,"y":232.5}]},"mark":{"type":"point","shape":"square","filled":false,"size":140,"strokeWidth":2.5,"color":"#9a9a9a","opacity":1},
    "encoding":{"x":{"field":"x","type":"quantitative","scale":{"domain":[-150,150],"range":[242.7,430.7],"nice":false,"zero":false},"axis":null},"y":{"field":"y","type":"quantitative","scale":{"domain":[0,150],"range":[158.5,58.5],"nice":false,"zero":false},"axis":null}}},
   {"data":{"values":[{"x":-138.4,"y":197.4}]},"mark":{"type":"point","shape":"square","filled":false,"size":42,"strokeWidth":1.3,"color":"#e8262a","opacity":1},
    "encoding":{"x":{"field":"x","type":"quantitative","scale":{"domain":[-150,150],"range":[242.7,430.7],"nice":false,"zero":false},"axis":null},"y":{"field":"y","type":"quantitative","scale":{"domain":[0,150],"range":[158.5,58.5],"nice":false,"zero":false},"axis":null}}},
   {"data":{"values":[{"x":26.5,"y":197.4}]},"mark":{"type":"point","shape":"square","filled":true,"size":64,"color":"#2f4fa0","opacity":1},
    "encoding":{"x":{"field":"x","type":"quantitative","scale":{"domain":[-150,150],"range":[242.7,430.7],"nice":false,"zero":false},"axis":null},"y":{"field":"y","type":"quantitative","scale":{"domain":[0,150],"range":[158.5,58.5],"nice":false,"zero":false},"axis":null}}},

   {"data":{"name":"ring80"},"mark":{"type":"point","shape":"M -1 0 C -1 -0.6213 -0.5523 -1.125 0 -1.125 C 0.5523 -1.125 1 -0.6213 1 0","filled":false,"opacity":1},
    "encoding":{
     "x":{"field":"o","type":"quantitative","scale":{"domain":[-80,80],"range":[472,641.4],"nice":false,"zero":false},
          "axis":{"orient":"bottom","values":[-80,-70,-60,-50,-40,-30,-20,-10,0,10,20,30,40,50,60,70,80],"labelExpr":"datum.value % 20 == 0 ? '' + abs(datum.value) : ''","tickSize":4,"labelPadding":0,"labelFontSize":14,"domain":true,"domainColor":"#111111","domainWidth":1.4,"title":null,
                  "labelOffset":{"condition":{"test":"datum.value == 80","value":-4},"value":0}}},
     "y":{"field":"o","type":"quantitative","scale":{"domain":[0,80],"range":[158.5,63.2],"nice":false,"zero":false},"axis":null},
     "size":{"field":"r","type":"quantitative","scale":{"type":"pow","exponent":2,"domain":[0,80],"range":[0,28696]},"legend":null},
     "stroke":{"field":"k","type":"nominal","scale":{"domain":["l","d","o"],"range":["#d6d6d6","#8a8a8a","#1a1a1a"]},"legend":null},
     "strokeWidth":{"field":"k","type":"ordinal","scale":{"domain":["l","d","o"],"range":[0.8,1,1.4]},"legend":null}}},
   {"data":{"name":"rad80"},"mark":{"type":"rule","color":"#8a8a8a","strokeWidth":0.9},
    "encoding":{"x":{"field":"o","type":"quantitative","scale":{"domain":[-80,80],"range":[472,641.4],"nice":false,"zero":false},"axis":null},"y":{"field":"o","type":"quantitative","scale":{"domain":[0,80],"range":[158.5,63.2],"nice":false,"zero":false},"axis":null},"x2":{"field":"ex"},"y2":{"field":"ey"}}},
   {"data":{"name":"p3"},"transform":[{"filter":"datum.c == 'r'"}],"mark":{"type":"point","shape":"square","filled":false,"size":42,"strokeWidth":1.3,"color":"#e8262a","opacity":1},
    "encoding":{"x":{"field":"x","type":"quantitative","scale":{"domain":[-80,80],"range":[472,641.4],"nice":false,"zero":false},"axis":null},"y":{"field":"y","type":"quantitative","scale":{"domain":[0,80],"range":[158.5,63.2],"nice":false,"zero":false},"axis":null}}},
   {"data":{"name":"p3"},"transform":[{"filter":"datum.c == 'b'"}],"mark":{"type":"point","shape":"square","filled":true,"size":70,"color":"#2f4fa0","opacity":1},
    "encoding":{"x":{"field":"x","type":"quantitative","scale":{"domain":[-80,80],"range":[472,641.4],"nice":false,"zero":false},"axis":null},"y":{"field":"y","type":"quantitative","scale":{"domain":[0,80],"range":[158.5,63.2],"nice":false,"zero":false},"axis":null}}},
   {"data":{"name":"lab80b"},"transform":[{"filter":"datum.x <= 0 || datum.y == 0"}],"mark":{"type":"text","fontSize":14,"color":"#1a1a1a"},
    "encoding":{"x":{"field":"x","type":"quantitative","scale":{"domain":[-80,80],"range":[472,641.4],"nice":false,"zero":false},"axis":null},"y":{"field":"y","type":"quantitative","scale":{"domain":[0,80],"range":[158.5,63.2],"nice":false,"zero":false},"axis":null},"text":{"field":"t"}}},
   {"data":{"name":"lab80b"},"transform":[{"filter":"datum.x > 0 && datum.y > 0"}],"mark":{"type":"text","fontSize":14,"color":"#1a1a1a","clip":true},
    "encoding":{"x":{"field":"x","type":"quantitative","scale":{"domain":[-80,80],"range":[472,641.4],"nice":false,"zero":false},"axis":null},"y":{"field":"y","type":"quantitative","scale":{"domain":[0,80],"range":[158.5,63.2],"nice":false,"zero":false},"axis":null},"text":{"field":"t"}}},
   {"data":{"values":[{"t":"1220 - 1250nm QDs","x":-6.3,"y":122.4}]},"mark":{"type":"text","fontSize":14.5,"color":"#1a1a1a"},
    "encoding":{"x":{"field":"x","type":"quantitative","scale":{"domain":[-80,80],"range":[472,641.4],"nice":false,"zero":false},"axis":null},"y":{"field":"y","type":"quantitative","scale":{"domain":[0,80],"range":[158.5,63.2],"nice":false,"zero":false},"axis":null},"text":{"field":"t"}}},
   {"data":{"values":[{"x":73,"y":125.3}]},"mark":{"type":"point","shape":"square","filled":false,"size":140,"strokeWidth":2.5,"color":"#9a9a9a","opacity":1},
    "encoding":{"x":{"field":"x","type":"quantitative","scale":{"domain":[-80,80],"range":[472,641.4],"nice":false,"zero":false},"axis":null},"y":{"field":"y","type":"quantitative","scale":{"domain":[0,80],"range":[158.5,63.2],"nice":false,"zero":false},"axis":null}}}
  ]}
]
}
